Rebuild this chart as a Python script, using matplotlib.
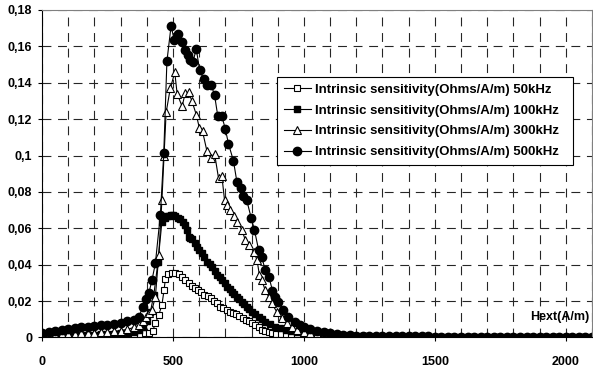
import matplotlib
matplotlib.use("Agg")
import matplotlib.pyplot as plt
from matplotlib.ticker import MultipleLocator, FuncFormatter

plt.rcParams['font.family'] = ['Liberation Sans', 'DejaVu Sans']
plt.rcParams['font.weight'] = 'bold'

# shared Hext samples for the two flat tails
hext_low = [0, 25, 50, 75, 100, 125, 150, 175, 200, 225, 250, 275, 300, 325, 350]
hext_tail = [1000, 1025, 1050, 1075, 1100, 1125, 1150, 1175, 1200, 1225,
             1250, 1275, 1300, 1325, 1350, 1375, 1400, 1425, 1450, 1475,
             1500, 1525, 1550, 1575, 1600, 1625, 1650, 1675, 1700, 1725,
             1750, 1775, 1800, 1825, 1850, 1875, 1900, 1925, 1950, 1975,
             2000, 2025, 2050, 2075, 2100]

# 50 kHz
x50 = [375, 395, 410, 422, 433, 446, 458, 466, 471, 483,
       496, 509, 522, 535, 547, 560, 573, 585, 597, 608,
       620, 632, 645, 657, 668, 681, 693, 705, 717, 729,
       741, 753, 766, 778, 790, 803, 815, 828, 841, 853,
       866, 880, 895, 912, 930, 950, 975]
y50 = [0.0018, 0.0022, 0.0027, 0.0033, 0.0078, 0.0124, 0.018, 0.026, 0.032, 0.035,
       0.0355, 0.0357, 0.035, 0.0335, 0.0316, 0.0302, 0.0283, 0.0272, 0.026, 0.0248,
       0.0233, 0.0226, 0.0219, 0.0203, 0.0188, 0.017, 0.0163, 0.0153, 0.014, 0.0133,
       0.0127, 0.0117, 0.0105, 0.0095, 0.009, 0.0078, 0.0068, 0.0055, 0.0043, 0.0034,
       0.0028, 0.0024, 0.002, 0.0017, 0.0015, 0.0013, 0.0011]
y50_low = [0.0005, 0.0005, 0.0006, 0.0006, 0.0007, 0.0007, 0.0008, 0.0008,
           0.0009, 0.0009, 0.001, 0.0011, 0.0012, 0.0013, 0.0015]
y50_tail = [0.0009, 0.0008, 0.0007, 0.0006, 0.0006, 0.0005, 0.0005, 0.0005, 0.0005, 0.0005,
            0.0004, 0.0004, 0.0004, 0.0004, 0.0004, 0.0004, 0.0004, 0.0004, 0.0004, 0.0004,
            0.0003, 0.0003, 0.0003, 0.0003, 0.0003, 0.0003, 0.0003, 0.0003, 0.0003, 0.0003,
            0.0002, 0.0002, 0.0002, 0.0002, 0.0002, 0.0002, 0.0002, 0.0002, 0.0002, 0.0002,
            0.0002, 0.0002, 0.0002, 0.0002, 0.0002]

# 100 kHz
x100 = [370, 385, 400, 414, 427, 443, 458, 468, 477, 486,
        494, 502, 509, 518, 528, 537, 547, 554, 560, 566,
        573, 583, 592, 601, 611, 620, 630, 640, 649, 659,
        668, 678, 687, 697, 706, 716, 725, 735, 744, 754,
        763, 773, 782, 792, 801, 814, 827, 840, 852, 870,
        890, 910, 930, 950, 975]
y100 = [0.004, 0.006, 0.009, 0.0142, 0.0234, 0.0417, 0.0637, 0.0655, 0.0665, 0.067,
        0.0674, 0.0672, 0.0665, 0.0658, 0.065, 0.0635, 0.0619, 0.059, 0.0555, 0.0548,
        0.054, 0.052, 0.05, 0.048, 0.0463, 0.044, 0.0417, 0.0404, 0.039, 0.0367,
        0.0344, 0.033, 0.0316, 0.0298, 0.028, 0.0266, 0.0252, 0.0238, 0.0224, 0.021,
        0.0197, 0.0183, 0.0169, 0.0155, 0.0142, 0.0128, 0.0114, 0.01, 0.0087, 0.0073,
        0.006, 0.005, 0.0042, 0.0035, 0.0028]
y100_low = [0.0008, 0.0009, 0.001, 0.0011, 0.0012, 0.0013, 0.0014, 0.0015,
            0.0016, 0.0017, 0.0018, 0.002, 0.0022, 0.0025, 0.003]
y100_tail = [0.0022, 0.0018, 0.0015, 0.0012, 0.001, 0.0009, 0.0008, 0.0007, 0.0006, 0.0006,
             0.0005, 0.0005, 0.0005, 0.0005, 0.0005, 0.0005, 0.0005, 0.0005, 0.0005, 0.0005,
             0.0004, 0.0004, 0.0004, 0.0004, 0.0004, 0.0004, 0.0004, 0.0004, 0.0004, 0.0004,
             0.0003, 0.0003, 0.0003, 0.0003, 0.0003, 0.0003, 0.0003, 0.0003, 0.0003, 0.0003,
             0.0003, 0.0003, 0.0003, 0.0003, 0.0003]

# 300 kHz
x300 = [370, 385, 397, 408, 420, 433, 446, 458, 466, 474,
        490, 507, 516, 535, 547, 560, 573, 589, 601, 613,
        630, 645, 659, 674, 687, 697, 706, 719, 735, 744,
        763, 776, 789, 808, 821, 830, 839, 852, 865, 877,
        896, 915, 934, 955, 975]
y300 = [0.0068, 0.009, 0.0115, 0.0133, 0.0151, 0.0225, 0.0454, 0.0757, 0.1, 0.1237,
        0.137, 0.1457, 0.134, 0.127, 0.1344, 0.1347, 0.1298, 0.1225, 0.1151, 0.1133,
        0.1023, 0.0986, 0.101, 0.0876, 0.0885, 0.0755, 0.0729, 0.0702, 0.0669, 0.0637,
        0.0592, 0.0537, 0.0509, 0.0472, 0.0427, 0.0344, 0.0316, 0.0261, 0.0225, 0.0188,
        0.0142, 0.0106, 0.0078, 0.0055, 0.004]
y300_low = [0.0012, 0.0013, 0.0015, 0.0017, 0.0019, 0.0021, 0.0023, 0.0025,
            0.0027, 0.0029, 0.0031, 0.0034, 0.0038, 0.0044, 0.0055]
y300_tail = [0.003, 0.0023, 0.0018, 0.0014, 0.0011, 0.0009, 0.0008, 0.0007, 0.0006, 0.0006,
             0.0005, 0.0005, 0.0005, 0.0005, 0.0005, 0.0005, 0.0005, 0.0005, 0.0005, 0.0005,
             0.0004, 0.0004, 0.0004, 0.0004, 0.0004, 0.0004, 0.0004, 0.0004, 0.0004, 0.0004,
             0.0003, 0.0003, 0.0003, 0.0003, 0.0003, 0.0003, 0.0003, 0.0003, 0.0003, 0.0003,
             0.0003, 0.0003, 0.0003, 0.0003, 0.0003]

# 500 kHz
x500 = [370, 385, 397, 408, 420, 433, 452, 465, 477, 493,
        505, 519, 535, 547, 557, 566, 576, 589, 602, 617,
        629, 646, 659, 671, 687, 700, 712, 731, 744, 761,
        769, 782, 799, 811, 827, 839, 852, 867, 880, 890,
        903, 922, 941, 966, 985]
y500 = [0.0112, 0.017, 0.021, 0.0243, 0.0316, 0.0408, 0.0674, 0.1014, 0.1518, 0.1714,
        0.1633, 0.167, 0.1622, 0.1578, 0.1555, 0.1527, 0.1512, 0.1586, 0.1468, 0.1421,
        0.139, 0.139, 0.1331, 0.1219, 0.1215, 0.1146, 0.1065, 0.0971, 0.0857, 0.0821,
        0.0775, 0.0753, 0.0656, 0.0592, 0.0482, 0.0445, 0.0371, 0.033, 0.0258, 0.022,
        0.0197, 0.015, 0.0114, 0.0085, 0.007]
y500_low = [0.0027, 0.003, 0.0035, 0.004, 0.0046, 0.005, 0.0055, 0.0059,
            0.0063, 0.0066, 0.007, 0.0075, 0.008, 0.0088, 0.0098]
y500_tail = [0.0058, 0.0046, 0.0036, 0.0028, 0.0022, 0.0017, 0.0014, 0.0012, 0.001, 0.0009,
             0.0008, 0.0008, 0.0007, 0.0007, 0.0007, 0.0006, 0.0006, 0.0006, 0.0006, 0.0006,
             0.0005, 0.0005, 0.0005, 0.0005, 0.0005, 0.0005, 0.0005, 0.0005, 0.0004, 0.0004,
             0.0004, 0.0004, 0.0004, 0.0004, 0.0004, 0.0004, 0.0004, 0.0004, 0.0004, 0.0004,
             0.0004, 0.0004, 0.0004, 0.0004, 0.0004]

labels = ["Intrinsic sensitivity(Ohms/A/m) 50kHz",
          "Intrinsic sensitivity(Ohms/A/m) 100kHz",
          "Intrinsic sensitivity(Ohms/A/m) 300kHz",
          "Intrinsic sensitivity(Ohms/A/m) 500kHz"]

fig = plt.figure(figsize=(5.93, 3.73), dpi=100)
ax = fig.add_axes([0.0708, 0.0952, 0.9275, 0.878])

ax.plot(hext_low + x50 + hext_tail, y50_low + y50 + y50_tail, color='black', lw=0.8,
        marker='s', ms=5, mfc='white', mec='black', mew=0.8, label=labels[0])
ax.plot(hext_low + x100 + hext_tail, y100_low + y100 + y100_tail, color='black', lw=0.8,
        marker='s', ms=5, mfc='black', mec='black', label=labels[1])
ax.plot(hext_low + x300 + hext_tail, y300_low + y300 + y300_tail, color='black', lw=0.8,
        marker='^', ms=6, mfc='white', mec='black', mew=0.8, label=labels[2])
ax.plot(hext_low + x500 + hext_tail, y500_low + y500 + y500_tail, color='black', lw=0.8,
        marker='o', ms=6, mfc='black', mec='black', label=labels[3])

ax.set_xlim(0, 2100)
ax.set_ylim(0, 0.18)
ax.xaxis.set_major_locator(MultipleLocator(500))
ax.xaxis.set_minor_locator(MultipleLocator(100))
ax.yaxis.set_major_locator(MultipleLocator(0.02))
ax.yaxis.set_major_formatter(FuncFormatter(lambda v, p: "0" if abs(v) < 1e-9 else ("%g" % round(v, 2)).replace('.', ',')))

ax.grid(True, which='both', axis='x', color='0.15', lw=0.8, linestyle=(0, (8, 6)))
ax.grid(True, which='major', axis='y', color='0.15', lw=0.8, linestyle=(0, (8, 6)))
ax.set_axisbelow(True)

ax.tick_params(axis='both', which='major', direction='out', length=3, width=0.8,
               labelsize=9, pad=4)
ax.tick_params(axis='x', which='minor', length=0)
ax.tick_params(axis='x', pad=10)
for lab in ax.get_xticklabels() + ax.get_yticklabels():
    lab.set_fontweight('bold')

ax.spines['top'].set_color('0.5')
ax.spines['right'].set_color('0.5')

ax.text(0.996, 0.063, "Hext(A/m)", transform=ax.transAxes, ha='right', va='center',
        fontsize=9, fontweight='bold')

# trailing spaces give the wider right margin of the original legend box
leg = ax.legend([l for l in ax.get_lines()], [s + "  " for s in labels],
                loc='upper right', bbox_to_anchor=(0.9655, 0.7954), borderaxespad=0,
                fancybox=False, edgecolor='black', framealpha=1,
                handlelength=2.1, handletextpad=0.3, labelspacing=0.65, borderpad=0.5,
                prop={'weight': 'bold', 'size': 9.5})
leg.get_frame().set_linewidth(0.8)

fig.savefig("out.png", dpi=100)
